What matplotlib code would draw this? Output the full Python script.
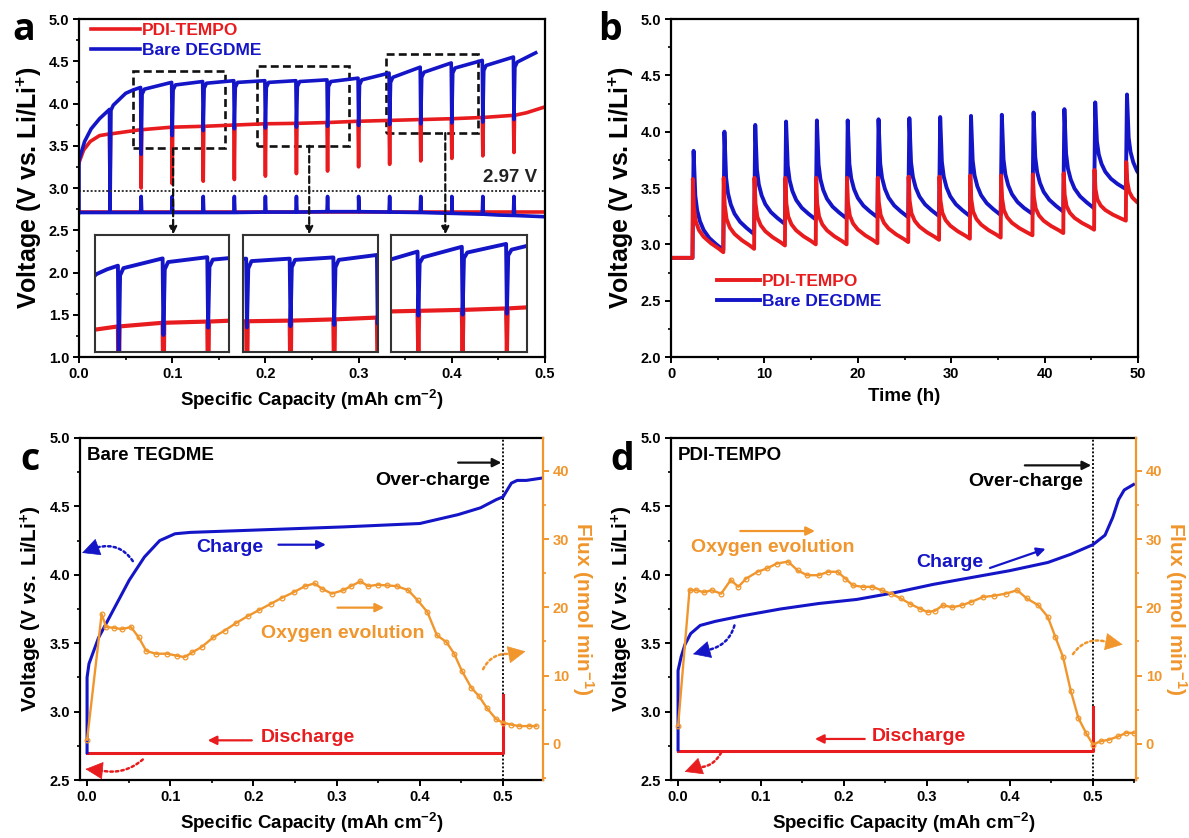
import matplotlib
matplotlib.use('Agg')
import matplotlib.pyplot as plt
from matplotlib.patches import Rectangle
from matplotlib.ticker import MultipleLocator, FormatStrFormatter

plt.rcParams['font.family'] = ['Liberation Sans', 'DejaVu Sans']
plt.rcParams['font.weight'] = 'bold'
plt.rcParams['axes.labelweight'] = 'bold'
plt.rcParams['mathtext.fontset'] = 'custom'
plt.rcParams['mathtext.rm'] = 'Liberation Sans:bold'
plt.rcParams['mathtext.bf'] = 'Liberation Sans:bold'
plt.rcParams['mathtext.it'] = 'Liberation Sans:bold:italic'

RED = '#e81c1e'
BLUE = '#1515c8'
ORANGE = '#f0962d'

# ---- (a) intermittent charge, capacity axis ----
dip_cap = [0.0333, 0.0667, 0.1000, 0.1333, 0.1667, 0.2000, 0.2333,
           0.2667, 0.3000, 0.3333, 0.3667, 0.4000, 0.4333, 0.4667]
blue_pre = [3.93, 4.19, 4.25, 4.26, 4.27, 4.27, 4.27, 4.28, 4.30, 4.36, 4.43, 4.48, 4.51, 4.55]
blue_post = [3.98, 4.17, 4.22, 4.24, 4.25, 4.25, 4.26, 4.26, 4.28, 4.31, 4.37, 4.42, 4.45, 4.49]
blue_low = [2.72, 3.40, 3.62, 3.68, 3.70, 3.71, 3.72, 3.73, 3.74, 3.75, 3.76, 3.77, 3.78, 3.81]
blue_knot_cap = [0.0, 0.0, 0.006, 0.013, 0.022, 0.050, 0.058, 0.490]
blue_knot_v = [2.71, 3.33, 3.55, 3.70, 3.82, 4.12, 4.16, 4.60]

red_at_dip = [3.64, 3.69, 3.72, 3.73, 3.745, 3.76, 3.765, 3.775, 3.79, 3.80, 3.81, 3.82, 3.835, 3.86]
red_low = [3.00, 3.00, 3.05, 3.08, 3.10, 3.14, 3.17, 3.20, 3.25, 3.28, 3.32, 3.35, 3.38, 3.42]
red_knot_cap = [0.0, 0.005, 0.012, 0.022, 0.480, 0.500]
red_knot_v = [3.30, 3.45, 3.55, 3.62, 3.89, 3.96]

base_knot_cap = [0.0, 0.30, 0.40, 0.45, 0.50]
base_knot_v = [2.71, 2.72, 2.70, 2.68, 2.66]
base_at_dip = [2.71, 2.71, 2.71, 2.71, 2.71, 2.715, 2.715, 2.72, 2.72, 2.715, 2.71, 2.70, 2.69, 2.675]
base_spike = 2.90
red_base_cap = [0.0, 0.5]
red_base_v = [2.72, 2.72]

# ---- (b) voltage vs time ----
t_spike = [2.3, 5.6, 8.9, 12.2, 15.5, 18.8, 22.1, 25.4, 28.7, 32.0, 35.3, 38.7, 42.0, 45.3, 48.7]
b_blue_peak = [3.83, 4.00, 4.06, 4.09, 4.10, 4.10, 4.11, 4.12, 4.13, 4.14, 4.15, 4.17, 4.20, 4.26, 4.33]
b_blue_trough = [2.95, 3.09, 3.18, 3.22, 3.23, 3.24, 3.24, 3.25, 3.25, 3.26, 3.27, 3.29, 3.32, 3.49, 3.48]
b_red_peak = [3.58, 3.59, 3.59, 3.59, 3.59, 3.59, 3.59, 3.60, 3.60, 3.61, 3.61, 3.62, 3.63, 3.66, 3.73]
b_red_trough = [2.93, 2.96, 2.99, 3.00, 3.00, 3.01, 3.02, 3.04, 3.05, 3.06, 3.08, 3.10, 3.13, 3.21, 3.28]
rest_v = 2.88
# relaxation after each spike: hours after spike, fraction of (peak - trough)
blue_dt = [0.12, 0.3, 0.5, 0.8, 1.2, 1.8, 2.5]
blue_frac = [1.0, 0.55, 0.40, 0.29, 0.20, 0.12, 0.06]
red_dt = [0.04, 0.15, 0.35, 0.7, 1.2, 2.0, 2.8]
red_frac = [1.0, 0.62, 0.42, 0.30, 0.21, 0.12, 0.05]

# ---- (c) bare TEGDME ----
c_chg_cap = [0.0, 0.0, 0.0023, 0.0138, 0.0322, 0.0506, 0.0689, 0.0873, 0.1057, 0.124, 0.216,
             0.308, 0.40, 0.446, 0.473, 0.492, 0.5, 0.51, 0.517, 0.528, 0.55]
c_chg_v = [2.70, 3.25, 3.35, 3.54, 3.75, 3.96, 4.13, 4.25, 4.30, 4.31, 4.33,
           4.35, 4.375, 4.44, 4.49, 4.55, 4.57, 4.67, 4.69, 4.69, 4.71]
c_dis_cap = [0.5, 0.5, 0.0]
c_dis_v = [3.12, 2.70, 2.70]
c_flux_cap = [0.0, 0.0175, 0.023, 0.0322, 0.0414, 0.0528, 0.062, 0.0712, 0.0827, 0.0965,
              0.108, 0.1172, 0.1264, 0.1379, 0.1517, 0.1654, 0.1792, 0.193, 0.2068, 0.2206,
              0.2344, 0.2482, 0.262, 0.2734, 0.2826, 0.2941, 0.3079, 0.3171, 0.3286, 0.3378,
              0.3493, 0.3608, 0.3722, 0.386, 0.3975, 0.409, 0.4205, 0.432, 0.4412, 0.4504,
              0.4619, 0.471, 0.4802, 0.4917, 0.5, 0.5101, 0.5193, 0.5308, 0.54]
c_flux = [0.6, 19.0, 17.1, 17.0, 16.8, 17.1, 15.6, 13.6, 13.2, 13.2,
          12.9, 12.7, 13.4, 14.2, 15.6, 16.6, 17.7, 18.7, 19.6, 20.5,
          21.4, 22.2, 23.1, 23.5, 22.7, 22.0, 22.5, 23.1, 23.8, 23.1,
          23.3, 23.2, 23.1, 22.5, 21.0, 19.3, 15.9, 14.9, 13.2, 10.7,
          8.2, 7.0, 5.3, 3.6, 3.1, 2.8, 2.6, 2.6, 2.6]

# ---- (d) PDI-TEMPO ----
d_chg_cap = [0.0, 0.0, 0.0037, 0.0083, 0.0152, 0.0267, 0.0451, 0.0773, 0.1234, 0.1694, 0.2155,
             0.2615, 0.3076, 0.3536, 0.3996, 0.4457, 0.4733, 0.5, 0.5147, 0.524, 0.531, 0.5378, 0.549]
d_chg_v = [2.72, 3.30, 3.40, 3.49, 3.57, 3.63, 3.66, 3.70, 3.75, 3.79, 3.82,
           3.87, 3.93, 3.98, 4.03, 4.09, 4.15, 4.22, 4.29, 4.42, 4.55, 4.62, 4.66]
d_dis_cap = [0.5, 0.5, 0.0]
d_dis_v = [3.03, 2.71, 2.71]
d_flux_cap = [0.0, 0.0138, 0.0221, 0.0313, 0.0405, 0.052, 0.0635, 0.0727, 0.082, 0.0958,
              0.1073, 0.1188, 0.1326, 0.1441, 0.1556, 0.1694, 0.1809, 0.1924, 0.2017, 0.2109,
              0.2224, 0.2339, 0.2454, 0.2569, 0.2684, 0.2799, 0.2914, 0.3007, 0.3099, 0.3191,
              0.3306, 0.3421, 0.3536, 0.3674, 0.3812, 0.395, 0.4088, 0.4203, 0.4342, 0.4457,
              0.4549, 0.4641, 0.4733, 0.4825, 0.4917, 0.5, 0.5101, 0.5193, 0.5308, 0.54, 0.5492]
d_flux = [2.6, 22.5, 22.5, 22.2, 22.5, 22.0, 24.0, 23.0, 24.2, 25.2,
          25.7, 26.4, 26.7, 25.4, 24.7, 24.7, 25.2, 25.2, 24.2, 23.2,
          23.0, 23.0, 22.5, 22.0, 21.3, 20.5, 19.8, 19.3, 19.5, 20.3,
          20.0, 20.3, 20.8, 21.5, 21.7, 22.0, 22.5, 21.3, 20.3, 18.6,
          15.6, 12.7, 7.8, 3.8, 1.6, -0.1, 0.4, 0.6, 1.1, 1.6, 1.6]


def with_dips(knot_x, knot_v, dip_x, pre, low, post, knee):
    """Join smooth knots and narrow rest dips into one ordered trace."""
    pts = [(x, 0, v) for x, v in zip(knot_x, knot_v)]
    for x, a, m, b in zip(dip_x, pre, low, post):
        pts.append((x - 0.0006, 1, a))
        pts.append((x, 2, m))
        if knee:
            pts.append((x + 0.0010, 3, b - 0.06))
            pts.append((x + 0.0035, 4, b))
        else:
            pts.append((x + 0.0006, 3, b))
    pts.sort()
    return [p[0] for p in pts], [p[2] for p in pts]


def relax_trace(peaks, troughs, dts, fracs, t_end):
    t, v = [0.0], [rest_v]
    prev = rest_v
    for k, t0 in enumerate(t_spike):
        nxt = t_spike[k + 1] if k + 1 < len(t_spike) else t_end
        t.append(t0)
        v.append(prev)
        for d, f in zip(dts, fracs):
            if t0 + d < nxt - 0.02:
                t.append(t0 + d)
                v.append(troughs[k] + f * (peaks[k] - troughs[k]))
        t.append(nxt)
        v.append(troughs[k])
        prev = troughs[k]
    return t, v


def style_axis(ax, xmaj, xmin, ymaj, ymin, xfmt):
    for s in ax.spines.values():
        s.set_linewidth(1.6)
    ax.xaxis.set_major_locator(MultipleLocator(xmaj))
    ax.xaxis.set_minor_locator(MultipleLocator(xmin))
    ax.yaxis.set_major_locator(MultipleLocator(ymaj))
    ax.yaxis.set_minor_locator(MultipleLocator(ymin))
    ax.xaxis.set_major_formatter(FormatStrFormatter(xfmt))
    ax.yaxis.set_major_formatter(FormatStrFormatter('%.1f'))
    ax.tick_params(which='major', direction='out', length=4, width=1.4, labelsize=10.5, pad=3)
    ax.tick_params(which='minor', direction='out', length=2.5, width=1.2)
    ax.tick_params(top=False, right=False, which='both')


fig = plt.figure(figsize=(11.89, 8.38), dpi=100)
W, H = 1189, 838


def px_axes(l, t, r, b):
    return fig.add_axes([l / W, 1 - b / H, (r - l) / W, (b - t) / H])


ax_a = px_axes(79, 19, 545, 357)
ax_b = px_axes(671, 19, 1138, 357)
ax_c = px_axes(80, 438, 543, 780)
ax_d = px_axes(671, 438, 1136, 780)

XLAB = 'Specific Capacity (mAh cm$^{-2}$)'
YLAB = 'Voltage (V vs. Li/Li$^{+}$)'

# ---------------- panel a ----------------
bx, bv = with_dips(blue_knot_cap, blue_knot_v, dip_cap, blue_pre, blue_low, blue_post, True)
rx, rv = with_dips(red_knot_cap, red_knot_v, dip_cap, red_at_dip, red_low, red_at_dip, False)
gx, gv = with_dips(base_knot_cap, base_knot_v, dip_cap[1:], base_at_dip[1:],
                   [base_spike] * (len(dip_cap) - 1), base_at_dip[1:], False)

ax_a.plot(red_base_cap, red_base_v, color=RED, lw=2.6)
ax_a.plot(gx, gv, color=BLUE, lw=2.6)
la_r, = ax_a.plot(rx, rv, color=RED, lw=2.6, label='PDI-TEMPO')
la_b, = ax_a.plot(bx, bv, color=BLUE, lw=2.6, label='Bare DEGDME')
ax_a.axhline(2.97, color='#333333', lw=1.4, ls=(0, (1, 1)))
ax_a.text(0.492, 3.02, '2.97 V', ha='right', va='bottom', fontsize=13.5, color='#222222')

ax_a.set_xlim(0, 0.5)
ax_a.set_ylim(1.0, 5.0)
style_axis(ax_a, 0.1, 0.05, 0.5, 0.25, '%.1f')
ax_a.set_xlabel(XLAB, fontsize=13.5, labelpad=5)
ax_a.set_ylabel(YLAB, fontsize=18, labelpad=3)
leg = ax_a.legend(handles=[la_r, la_b], loc='upper left', bbox_to_anchor=(0.0, 1.025),
                  frameon=False, handlelength=2.8, handletextpad=0.1, labelspacing=0.3,
                  fontsize=12.5, borderaxespad=0.3)
for txt, c in zip(leg.get_texts(), [RED, BLUE]):
    txt.set_color(c)

zoom_boxes = [(0.058, 3.47, 0.099, 0.92), (0.191, 3.50, 0.099, 0.94), (0.329, 3.65, 0.099, 0.94)]
arrow_x = [0.101, 0.247, 0.393]
for (x0, y0, w, h), xa in zip(zoom_boxes, arrow_x):
    ax_a.add_patch(Rectangle((x0, y0), w, h, fill=False, ec='#111111', lw=1.9, ls=(0, (3, 1.6))))
    ax_a.annotate('', xy=(xa, 2.45), xytext=(xa, y0),
                  arrowprops=dict(arrowstyle='-|>', color='#111111', lw=1.6, ls=(0, (3, 1.6)),
                                  mutation_scale=11, shrinkA=0, shrinkB=0))

inset_span = [(0.0170, 0.1440), (0.1760, 0.1445), (0.3350, 0.1455)]
inset_xlim = [(0.0489, 0.1489), (0.1970, 0.3000), (0.3463, 0.4483)]
inset_ylim = [(3.48, 4.44), (3.51, 4.46), (3.38, 4.60)]
for (x0, w), xl, yl in zip(inset_span, inset_xlim, inset_ylim):
    ins = ax_a.inset_axes([x0, 1.06, w, 1.38], transform=ax_a.transData)
    ins.plot(rx, rv, color=RED, lw=3.0)
    ins.plot(bx, bv, color=BLUE, lw=2.8)
    ins.set_xlim(*xl)
    ins.set_ylim(*yl)
    ins.set_xticks([])
    ins.set_yticks([])
    for s in ins.spines.values():
        s.set_linewidth(1.5)
        s.set_color('#333333')

# ---------------- panel b ----------------
tb, vb = relax_trace(b_blue_peak, b_blue_trough, blue_dt, blue_frac, 51.5)
tr, vr = relax_trace(b_red_peak, b_red_trough, red_dt, red_frac, 51.5)
lb_b, = ax_b.plot(tb, vb, color=BLUE, lw=2.8, label='Bare DEGDME')
lb_r, = ax_b.plot(tr, vr, color=RED, lw=2.8, label='PDI-TEMPO')
ax_b.set_xlim(0, 50)
ax_b.set_ylim(2.0, 5.0)
style_axis(ax_b, 10, 5, 0.5, 0.25, '%d')
ax_b.set_xlabel('Time (h)', fontsize=13.5, labelpad=5)
ax_b.set_ylabel(YLAB, fontsize=18, labelpad=3)
leg = ax_b.legend(handles=[lb_r, lb_b], loc='lower left', bbox_to_anchor=(0.065, 0.095),
                  frameon=False, handlelength=2.5, handletextpad=0.1, labelspacing=0.3,
                  fontsize=12.5)
for txt, c in zip(leg.get_texts(), [RED, BLUE]):
    txt.set_color(c)


# ---------------- panels c and d ----------------
def flux_panel(ax, chg_x, chg_v, dis_x, dis_v, fx, fv, xmax):
    ax.plot(dis_x, dis_v, color=RED, lw=2.2, zorder=3)
    ax.plot(chg_x, chg_v, color=BLUE, lw=2.2, zorder=3)
    ax.axvline(0.5, color='#111111', lw=1.4, ls=(0, (1, 1)), zorder=2)
    ax.set_xlim(-0.0085, xmax)
    ax.set_ylim(2.5, 5.0)
    style_axis(ax, 0.1, 0.05, 0.5, 0.25, '%.1f')
    ax.spines['right'].set_visible(False)
    ax.set_xlabel(XLAB, fontsize=13.5, labelpad=5)
    ax.set_ylabel('Voltage (V $\\mathit{vs.}$ Li/Li$^{+}$)', fontsize=15, labelpad=4)
    tw = ax.twinx()
    tw.plot(fx, fv, color=ORANGE, lw=1.7, marker='o', ms=3.4, mfc='none', mew=0.9)
    tw.set_ylim(-5.3, 44.8)
    tw.yaxis.set_major_locator(MultipleLocator(10))
    tw.yaxis.set_minor_locator(MultipleLocator(5))
    for k in ('left', 'top', 'bottom'):
        tw.spines[k].set_visible(False)
    tw.spines['right'].set_color(ORANGE)
    tw.spines['right'].set_linewidth(1.6)
    tw.tick_params(which='major', direction='out', length=4, width=1.4, colors=ORANGE,
                   labelsize=10.5, pad=3)
    tw.tick_params(which='minor', direction='out', length=2.5, width=1.2, colors=ORANGE)
    tw.set_ylabel('Flux (nmol min$^{-1}$)', color=ORANGE, fontsize=15, rotation=270,
                  labelpad=19)
    return tw


def arrow(ax, x0, y0, x1, y1, color, ms=13, lw=1.6):
    ax.annotate('', xy=(x1, y1), xytext=(x0, y0),
                arrowprops=dict(arrowstyle='-|>', color=color, lw=lw, mutation_scale=ms,
                                shrinkA=0, shrinkB=0), zorder=6)


def dotted_pointer(ax, tail, neck, tip, color, rad):
    # curved dotted stem ending in a solid triangular head
    ax.annotate('', xy=neck, xytext=tail,
                arrowprops=dict(arrowstyle='-', color=color, lw=1.8, ls=(0, (1, 1.2)),
                                shrinkA=0, shrinkB=0, connectionstyle=f'arc3,rad={rad}'),
                zorder=6)
    ax.annotate('', xy=tip, xytext=neck,
                arrowprops=dict(arrowstyle='-|>,head_length=0.9,head_width=0.45', color=color,
                                lw=0.5, mutation_scale=13, shrinkA=0, shrinkB=0), zorder=6)


flux_panel(ax_c, c_chg_cap, c_chg_v, c_dis_cap, c_dis_v, c_flux_cap, c_flux, 0.548)
ax_c.text(0.0, 4.87, 'Bare TEGDME', fontsize=13.5, va='center', ha='left')
ax_c.text(0.415, 4.69, 'Over-charge', fontsize=14, va='center', ha='center')
arrow(ax_c, 0.446, 4.82, 0.498, 4.82, '#111111')
ax_c.text(0.172, 4.20, 'Charge', fontsize=14, color=BLUE, va='center', ha='center')
arrow(ax_c, 0.230, 4.22, 0.287, 4.22, BLUE)
ax_c.text(0.307, 3.57, 'Oxygen evolution', fontsize=14, color=ORANGE, va='center', ha='center')
arrow(ax_c, 0.301, 3.76, 0.357, 3.76, ORANGE)
ax_c.text(0.265, 2.81, 'Discharge', fontsize=14, color=RED, va='center', ha='center')
arrow(ax_c, 0.198, 2.79, 0.145, 2.79, RED)
dotted_pointer(ax_c, (0.055, 4.10), (0.012, 4.20), (-0.006, 4.16), BLUE, 0.35)
dotted_pointer(ax_c, (0.067, 2.65), (0.016, 2.57), (-0.002, 2.58), RED, -0.25)
dotted_pointer(ax_c, (0.476, 3.31), (0.510, 3.42), (0.527, 3.44), ORANGE, -0.35)

flux_panel(ax_d, d_chg_cap, d_chg_v, d_dis_cap, d_dis_v, d_flux_cap, d_flux, 0.552)
ax_d.text(0.0, 4.87, 'PDI-TEMPO', fontsize=13.5, va='center', ha='left')
ax_d.text(0.419, 4.68, 'Over-charge', fontsize=14, va='center', ha='center')
arrow(ax_d, 0.418, 4.80, 0.498, 4.80, '#111111')
ax_d.text(0.114, 4.20, 'Oxygen evolution', fontsize=14, color=ORANGE, va='center', ha='center')
arrow(ax_d, 0.075, 4.32, 0.165, 4.32, ORANGE)
ax_d.text(0.328, 4.09, 'Charge', fontsize=14, color=BLUE, va='center', ha='center')
arrow(ax_d, 0.376, 4.05, 0.443, 4.19, BLUE)
ax_d.text(0.290, 2.82, 'Discharge', fontsize=14, color=RED, va='center', ha='center')
arrow(ax_d, 0.225, 2.80, 0.165, 2.80, RED)
dotted_pointer(ax_d, (0.068, 3.63), (0.036, 3.45), (0.018, 3.42), BLUE, -0.3)
dotted_pointer(ax_d, (0.052, 2.70), (0.022, 2.59), (0.008, 2.56), RED, -0.3)
dotted_pointer(ax_d, (0.476, 3.42), (0.517, 3.51), (0.536, 3.49), ORANGE, -0.35)

for lab, (x, y) in zip('abcd', [(12, 40), (598, 40), (20, 470), (610, 470)]):
    fig.text(x / W, 1 - y / H, lab, fontsize=27, fontweight='bold', family='Open Sans',
             ha='left', va='baseline')

fig.savefig('out.png', dpi=100)
